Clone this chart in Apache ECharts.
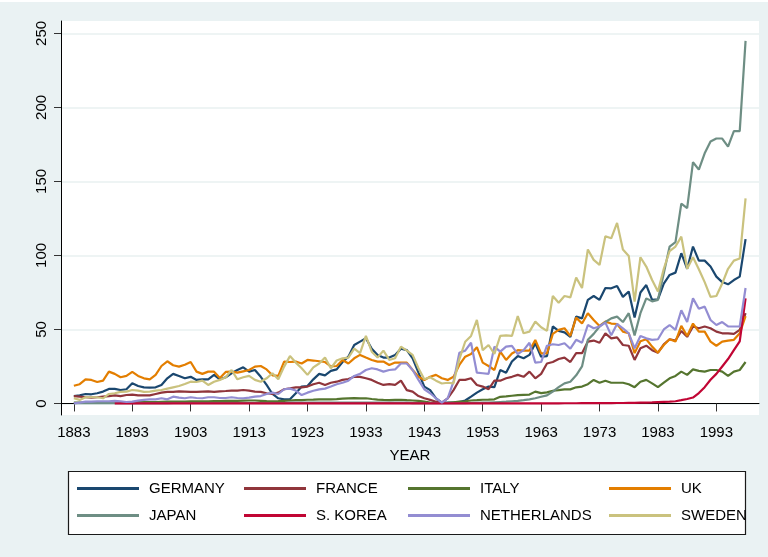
<!DOCTYPE html>
<html>
<head>
<meta charset="utf-8">
<script src="https://cdn.jsdelivr.net/npm/echarts@6/dist/echarts.min.js"></script>
<style>
  html, body { margin: 0; padding: 0; background: #ffffff; }
  #chart { width: 768px; height: 557px; }
</style>
</head>
<body>
<div id="chart"></div>
<script>
// years 1883..1998
const firstYear = 1883;
const lastYear = 1998;
const yearTicks = [1883, 1893, 1903, 1913, 1923, 1933, 1943, 1953, 1963, 1973, 1983, 1993];
const valueTicks = [0, 50, 100, 150, 200, 250];

const germany = [
  5, 5.5, 6.4, 6.2, 6.9, 8, 9.8, 9.8, 9.1, 9.6,
  13.6, 11.8, 10.9, 10.7, 10.9, 12.5, 17, 20, 18.6, 17,
  18, 15.9, 16.3, 16.3, 19.3, 16.3, 17.7, 20.4, 22.6, 24.4,
  21.5, 22.6, 18, 12.5, 6.4, 3.5, 2.8, 2.8, 6.9, 11.4,
  11.8, 16.3, 20, 19, 22, 23, 28, 31.6, 39.5, 41.8,
  44, 37, 32.8, 31, 31, 32.8, 37, 36, 30.5, 20.8,
  11.4, 9, 3.5, 0.5, 0.5, 0.5, 1, 2, 4.6, 7.3,
  9.6, 11.4, 11, 22.6, 20.8, 28.3, 32, 30.5, 32.8, 40.6,
  31.6, 32, 52, 49, 48, 45, 58.7, 57.5, 70, 72.6,
  70, 78, 77.8, 79.4, 72, 75.6, 58, 75, 80, 70,
  70.4, 81, 86.8, 88.4, 101.5, 91, 106, 96.5, 96.5, 92.5,
  85.7, 82, 80.5, 83.4, 85.7, 111
];
const france = [
  5, 4.6, 4.2, 3.9, 4.2, 4.6, 5, 5.5, 5, 5.7,
  6, 5.5, 5.5, 5.5, 6.4, 7.3, 7.8, 7.8, 8.2, 8,
  7.8, 7.8, 8, 8.2, 7.8, 8.2, 8.4, 8.7, 8.7, 9.1,
  8.7, 8, 7.8, 6.9, 6.4, 7.3, 9.6, 10.2, 10.9, 10.9,
  11.4, 13, 14, 12.5, 14, 14.7, 15.9, 16.5, 18, 18,
  17, 15.9, 14, 12.5, 13, 12.5, 15.4, 9, 8, 5,
  3.5, 2.4, 1.2, 0.5, 3.5, 9, 15.9, 15.9, 17, 12.5,
  11.4, 9.6, 15.4, 15.4, 17, 18, 19.3, 18, 21.5, 17,
  20, 27, 28, 30, 31, 28, 34, 34, 41.8, 42.5,
  41, 47.4, 44, 44.7, 39.5, 39, 29.4, 37.3, 39, 36,
  34.3, 40, 43.4, 42.5, 49, 45, 52, 50.8, 52, 50.8,
  48.5, 47.4, 47.4, 47, 49.7, 61
];
const italy = [
  0.5, 0.5, 0.6, 0.6, 0.7, 0.7, 0.8, 0.8, 0.8, 0.9,
  0.9, 1, 1, 1, 1, 1.1, 1.2, 1.2, 1.3, 1.3,
  1.4, 1.4, 1.5, 1.5, 1.6, 1.6, 1.7, 1.8, 1.8, 1.9,
  2, 2, 1.8, 1.6, 1.5, 1.6, 1.8, 2, 2.2, 2.3,
  2.5, 2.6, 2.8, 2.8, 2.7, 2.9, 3.2, 3.4, 3.6, 3.4,
  3.5, 3, 2.6, 2.4, 2.3, 2.4, 2.5, 2.2, 2, 1.8,
  1.2, 0.6, 0.3, 0.3, 0.4, 0.8, 1.2, 1.5, 2, 2.2,
  2.5, 2.6, 2.8, 4.5, 4.8, 5.2, 5.6, 5.8, 6, 8,
  7, 7.5, 8.6, 9, 9.5, 9.5, 10.9, 11.4, 13, 15.9,
  14, 15.4, 14, 14, 14, 13, 11, 14.7, 15.9, 13.6,
  11, 14, 17, 18.6, 21.5, 19.3, 23, 22, 21.5, 22.6,
  22.6, 21.5, 18.6, 21.5, 22.6, 28
];
const uk = [
  12, 13, 16.3, 15.9, 14.5, 15.4, 21.5, 20, 17.7, 18.6,
  21.3, 18.6, 17, 16.3, 19.3, 25.3, 28.5, 25.8, 24.9, 26.2,
  28, 21.5, 20, 21.5, 21.5, 17.2, 21.3, 21.5, 20.8, 21.7,
  22.6, 24.9, 25.3, 23, 19, 18.6, 28.3, 28, 28.3, 27,
  29.4, 29, 28.5, 28, 25, 25.3, 29.4, 27, 30.5, 32.8,
  31, 29.4, 28.3, 28.3, 26, 27.6, 27.6, 27.6, 22.6, 18,
  15.9, 18, 19.3, 17, 15.9, 18, 26, 31.6, 33.4, 38,
  27.6, 25.3, 22.6, 35, 29.4, 33.8, 36, 35.7, 35.7, 42.9,
  33.8, 33.8, 47, 49.7, 50.8, 45.6, 58, 54, 61, 56.4,
  52.4, 55.3, 54, 53.7, 48.5, 47.4, 34, 42, 43.4, 38.4,
  34.3, 39.5, 43.4, 41.8, 52.4, 45.6, 54, 48.5, 48.5, 41.8,
  39, 41.8, 42.5, 43, 47.4, 59
];
const japan = [
  0.2, 0.2, 0.2, 0.2, 0.2, 0.2, 0.2, 0.2, 0.2, 0.2,
  0.2, 0.2, 0.2, 0.2, 0.2, 0.2, 0.2, 0.3, 0.3, 0.3,
  0.3, 0.3, 0.3, 0.3, 0.3, 0.3, 0.3, 0.3, 0.3, 0.3,
  0.3, 0.3, 0.3, 0.3, 0.3, 0.3, 0.3, 0.5, 0.5, 0.5,
  0.5, 0.5, 0.5, 0.5, 0.5, 0.5, 0.5, 0.5, 0.5, 0.5,
  0.5, 0.5, 0.5, 0.5, 0.5, 0.5, 0.5, 0.5, 0.2, 0.2,
  0.2, 0.2, 0.2, 0.2, 0.2, 0.2, 0.2, 0.2, 0.3, 0.4,
  0.5, 0.6, 0.8, 1, 1.2, 1.5, 1.8, 2.2, 2.8, 3.5,
  4.5, 5.5, 8, 11, 13.6, 14.7, 19, 25, 43, 47,
  52, 55, 57.5, 58.7, 55, 61, 46, 61, 71, 69,
  70, 88, 106, 109, 135, 132, 163, 158, 169, 177,
  179, 179, 173.5, 184, 184, 245
];
const korea = [
  null, null, null, null, null, null, null, 0.05, 0.05, 0.05,
  0.05, 0.05, 0.05, 0.05, 0.05, 0.05, 0.05, 0.05, 0.05, 0.05,
  0.05, 0.05, 0.05, 0.05, 0.05, 0.05, 0.05, 0.05, 0.05, 0.05,
  0.05, 0.05, 0.05, 0.05, 0.05, 0.05, 0.05, 0.05, 0.05, 0.05,
  0.05, 0.05, 0.05, 0.05, 0.05, 0.05, 0.05, 0.05, 0.05, 0.05,
  0.05, 0.05, 0.05, 0.05, 0.05, 0.05, 0.05, 0.05, 0.05, 0.05,
  0.05, 0.05, 0.05, 0.05, 0.05, 0.05, 0.05, 0.05, 0.05, 0.05,
  0.05, 0.05, 0.05, 0.05, 0.05, 0.05, 0.05, 0.05, 0.1, 0.1,
  0.1, 0.1, 0.1, 0.1, 0.15, 0.15, 0.15, 0.2, 0.2, 0.2,
  0.2, 0.25, 0.25, 0.3, 0.3, 0.4, 0.4, 0.5, 0.6, 0.7,
  0.9, 1.1, 1.2, 1.5, 2.2, 3, 4, 7, 11, 16,
  20, 25, 30, 36, 42, 71
];
const netherlands = [
  0, 0.6, 1.2, 1.2, 1.5, 1.5, 1.5, 1.7, 1.5, 1,
  1.2, 1.9, 2.4, 2.8, 2.8, 3.5, 2.8, 4.6, 3.9, 3.5,
  4.2, 3.7, 3.5, 4.2, 4.2, 3.7, 3.7, 4.2, 3.7, 3.5,
  3.9, 4.6, 5, 6.4, 7.3, 6.4, 9.6, 10, 8.7, 5.7,
  7.3, 8.6, 9.5, 10, 11.4, 13, 14, 15.4, 18.6, 20,
  22.6, 23.8, 23, 21.5, 22.6, 23, 27, 27, 22.6, 15.9,
  9.6, 6.9, 3.5, 0.5, 3.5, 14.7, 34.3, 35.7, 41, 20.8,
  20.4, 20, 38.4, 35, 38.4, 38.9, 33.4, 36, 41, 27.6,
  28, 39, 40, 39.5, 40.7, 37, 43, 41, 53, 50.8,
  52, 54.6, 46, 53.7, 50.8, 47.4, 37.3, 45.6, 44, 43,
  43.4, 50, 53, 49.7, 63, 55, 71, 64, 65.4, 56.4,
  53, 55, 52, 52, 52, 78
];
const sweden = [
  3.5, 2.4, 4.2, 4.2, 4.2, 3.5, 6.4, 6.9, 7.8, 8,
  9.1, 8.7, 7.8, 8, 8.7, 9.1, 10, 10.9, 11.8, 13.2,
  14.7, 14.5, 15.4, 12.5, 14.7, 15.9, 17.7, 22.6, 16.3, 17.7,
  18.6, 15.9, 14.7, 17, 20.4, 16.3, 24.9, 32, 27.6, 23.8,
  19.3, 24.4, 27, 31, 23.8, 29, 30.5, 31, 37, 34,
  45.6, 35, 31, 35.7, 29.4, 30.5, 38.4, 35.7, 32.8, 23.8,
  16.3, 17.7, 15.4, 13.5, 14, 13.6, 30, 41.7, 45.6, 56.4,
  36, 39.5, 33.4, 45.6, 46, 45.6, 59, 47.4, 48.5, 55.3,
  51.5, 49, 72.6, 68, 72.6, 71.7, 85, 78, 104, 97,
  93.6, 113, 111.6, 122, 104, 99.7, 68.8, 98.8, 92.5, 83.4,
  75.6, 91, 103, 106, 112.7, 91, 98.8, 90.7, 82, 72,
  72.6, 81, 91, 96.5, 98, 138.6
];

const names = ['GERMANY', 'FRANCE', 'ITALY', 'UK', 'JAPAN', 'S. KOREA', 'NETHERLANDS', 'SWEDEN'];
const values = [germany, france, italy, uk, japan, korea, netherlands, sweden];
const colors = ['#1a476f', '#90353b', '#55752f', '#e37e00', '#6e8e84', '#c10534', '#938dd2', '#cac27e'];

const years = [];
for (let y = firstYear; y <= lastYear; y++) years.push(y);

const font = 'Liberation Sans, Arial, Helvetica, sans-serif';

// legend slots: [left of line, top]
const legendPos = [
  [77, 481], [244, 481], [408, 481], [609, 481],
  [77, 508], [244, 508], [408, 508], [609, 508],
];

const chart = echarts.init(document.getElementById('chart'));

chart.setOption({
  animation: false,
  backgroundColor: '#eaf2f3',
  textStyle: { fontFamily: font },
  graphic: [
    { type: 'rect', shape: { x: 0, y: 0, width: 768, height: 2 }, style: { fill: '#ffffff' } },
    {
      type: 'rect', shape: { x: 68.5, y: 471.5, width: 677, height: 63 },
      style: { fill: '#ffffff', stroke: '#1a1a1a', lineWidth: 1.2 },
    },
  ],
  grid: {
    left: 61, top: 21, right: 9, bottom: 142,
    show: true, backgroundColor: '#ffffff', borderWidth: 0,
  },
  xAxis: {
    type: 'value',
    min: 1880.8,
    max: 2000.3,
    name: 'YEAR',
    nameLocation: 'middle',
    nameGap: 33,
    nameTextStyle: { fontSize: 15, color: '#000', fontFamily: font },
    axisLine: { lineStyle: { color: '#000', width: 1 } },
    axisTick: { length: 8, customValues: yearTicks, lineStyle: { color: '#333', width: 1 } },
    axisLabel: {
      customValues: yearTicks, fontSize: 15, color: '#000', margin: 10, fontFamily: font,
      formatter: (v) => String(v),
    },
    splitLine: { show: false },
  },
  yAxis: {
    type: 'value',
    min: -7.8,
    max: 258.4,
    axisLine: { show: true, lineStyle: { color: '#000', width: 1 } },
    axisTick: { show: true, length: 7, customValues: valueTicks, lineStyle: { color: '#333', width: 1 } },
    axisLabel: { customValues: valueTicks, rotate: 90, fontSize: 15, color: '#000', margin: 12, fontFamily: font },
    splitLine: { show: true, lineStyle: { color: '#e8f0f1', width: 1.5 } },
  },
  legend: names.map((n, i) => ({
    data: [n],
    left: legendPos[i][0],
    top: legendPos[i][1],
    padding: 0,
    icon: 'rect',
    itemWidth: 62,
    itemHeight: 3,
    selectedMode: false,
    textStyle: { fontSize: 15, color: '#000', fontFamily: font, padding: [0, 0, 0, 5] },
  })),
  series: names.map((n, i) => ({
    name: n,
    type: 'line',
    showSymbol: false,
    symbol: 'none',
    color: colors[i],
    lineStyle: { width: 2.2, color: colors[i] },
    data: years.map((yr, j) => [yr, values[i][j]]),
  })),
});
</script>
</body>
</html>
